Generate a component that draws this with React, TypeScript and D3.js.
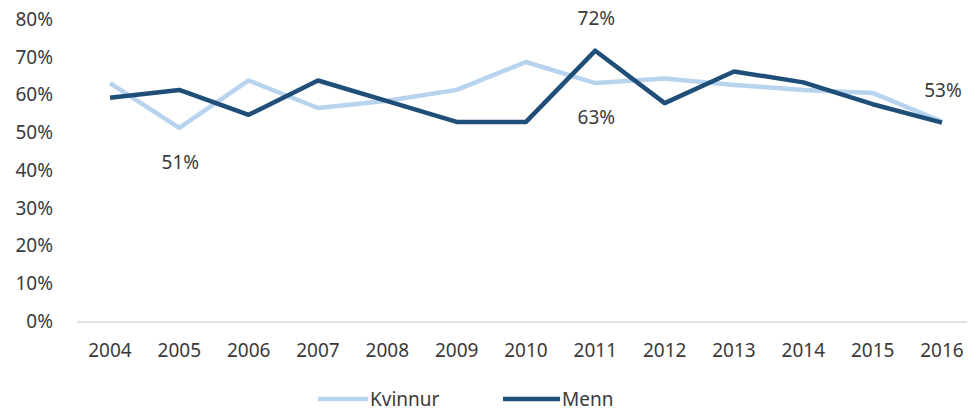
import React from "react";
import * as d3 from "d3";

const years = ["2004","2005","2006","2007","2008","2009","2010","2011","2012","2013","2014","2015","2016"];
const kvinnur = [63.1, 51.2, 63.8, 56.5, 58.4, 61.3, 68.7, 63.1, 64.3, 62.6, 61.3, 60.5, 52.9];
const menn = [59.2, 61.3, 54.7, 63.8, 58.3, 52.8, 52.8, 71.7, 57.8, 66.2, 63.3, 57.5, 52.6];
const yTicks = [0, 10, 20, 30, 40, 50, 60, 70, 80];
const seriesNames = ["Kvinnur", "Menn"];
const colors = ["#b7d3ee", "#1f4e79"];
// data labels: [series index, year index, position]
const dataLabels: [number, number, string][] = [
  [0, 1, "below"],
  [1, 7, "above"],
  [0, 7, "below"],
  [1, 12, "above"],
];

const W = 969, H = 412;
const font = "'Noto Sans', sans-serif";
const textFill = "#3a3a3a";

export default function App() {
  const x = d3.scalePoint<string>().domain(years).range([110, 942]);
  const y = d3.scaleLinear().domain([0, 80]).range([321, 19.4]);
  const line = d3.line<number>().x((_, i) => x(years[i])!).y((d) => y(d));
  const series = [kvinnur, menn];
  const legendX = [318, 503];
  const legendLen = [50, 57];
  return (
    <svg width={W} height={H} style={{ position: "absolute", left: 0, top: 0, background: "#fff" }}>
      <line x1={77} x2={967} y1={y(0) + 1} y2={y(0) + 1} stroke="#d9d9d9" strokeWidth={1.5} />
      {yTicks.map((t) => (
        <text key={t} x={53} y={y(t)} dy="0.35em" textAnchor="end" fontFamily={font} fontSize={19} fill={textFill}>
          {t}%
        </text>
      ))}
      {years.map((yr) => (
        <text key={yr} x={x(yr)!} y={350} dy="0.35em" textAnchor="middle" fontFamily={font} fontSize={19} fill={textFill}>
          {yr}
        </text>
      ))}
      {series.map((s, i) => (
        <path key={i} d={line(s)!} fill="none" stroke={colors[i]} strokeWidth={4.5} strokeLinejoin="round" />
      ))}
      {dataLabels.map(([si, yi, pos], k) => {
        const v = series[si][yi];
        const yy = pos === "above" ? y(v) - 32 : y(v) + 34;
        return (
          <text key={k} x={x(years[yi])! + 1} y={yy} dy="0.35em" textAnchor="middle" fontFamily={font} fontSize={19} fill={textFill}>
            {Math.round(v)}%
          </text>
        );
      })}
      {seriesNames.map((n, i) => {
        const lx = legendX[i];
        return (
          <g key={n}>
            <line x1={lx} x2={lx + legendLen[i]} y1={399} y2={399} stroke={colors[i]} strokeWidth={4.5} />
            <text x={lx + legendLen[i] + 2} y={399} dy="0.35em" fontFamily={font} fontSize={19} fill={textFill}>
              {n}
            </text>
          </g>
        );
      })}
    </svg>
  );
}
